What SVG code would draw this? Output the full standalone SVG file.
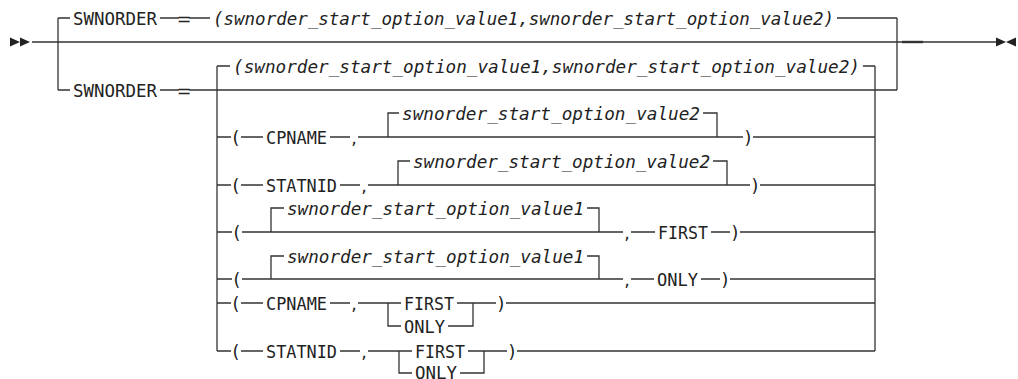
<svg xmlns="http://www.w3.org/2000/svg" width="1018" height="379" viewBox="0 0 1018 379">
<style>
.ln{fill:none;stroke:#333;stroke-width:1.3}
.bg{fill:#fff}
.t{font-family:"DejaVu Sans Mono","Liberation Mono",monospace;font-size:17.5px;fill:#222}
.i{font-family:"DejaVu Sans Mono","Liberation Mono",monospace;font-style:italic;font-size:17.5px;fill:#222}
.p{font-family:"DejaVu Sans","Liberation Sans",sans-serif;font-size:17.5px;fill:#222;text-anchor:middle}
.mk{fill:#222}
</style>
<defs>
<path id="tr" d="M0 -4.5 L10 0 L0 4.5 Z"/>
<path id="tl" d="M10 -4.5 L0 0 L10 4.5 Z"/>
</defs>
<g id="connectors">
<path class="ln" d="M32 42 H996"/>
<path class="ln" d="M902 42 H923" style="stroke-width:2.4"/>
<path class="ln" d="M58 18 V90 M897 18 V90 M58 18 H897 M58 90 H897"/>
<path class="ln" d="M217 66 V351 M875 66 V351 M217 66 H875 M217 137 H875 M217 185 H875 M217 232 H875 M217 279 H875 M217 303 H875 M217 351 H875"/>
<path class="ln" d="M388 137 V113 H717 V137"/>
<path class="ln" d="M398 185 V161 H727 V185"/>
<path class="ln" d="M271 232 V208 H599 V232"/>
<path class="ln" d="M271 279 V256 H599 V279"/>
<path class="ln" d="M388 303 V326 H473 V303"/>
<path class="ln" d="M399 351 V373 H484 V351"/>
</g>
<g id="start"><use href="#tr" class="mk" x="10" y="42"/><use href="#tr" class="mk" x="20" y="42"/></g>
<g id="end"><use href="#tr" class="mk" x="996" y="42"/><use href="#tl" class="mk" x="1006" y="42"/></g>

<g id="n-swnorder-top"><rect class="bg" x="70" y="9" width="90" height="20"/><text class="t" x="73" y="25" textLength="84" lengthAdjust="spacingAndGlyphs">SWNORDER</text></g>
<g id="n-eq-top"><rect class="bg" x="179" y="10" width="10" height="19"/><text class="p" x="184" y="25">=</text></g>
<g id="n-values-top"><rect class="bg" x="210" y="10" width="627" height="19"/><text class="i" x="213" y="25" textLength="621" lengthAdjust="spacingAndGlyphs">(swnorder_start_option_value1,swnorder_start_option_value2)</text></g>

<g id="n-swnorder-bot"><rect class="bg" x="70" y="81" width="90" height="20"/><text class="t" x="73" y="97" textLength="84" lengthAdjust="spacingAndGlyphs">SWNORDER</text></g>
<g id="n-eq-bot"><rect class="bg" x="179" y="82" width="10" height="19"/><text class="p" x="184" y="97">=</text></g>

<g id="n-values-inner"><rect class="bg" x="230" y="58" width="633" height="19"/><text class="i" x="233" y="73" textLength="627" lengthAdjust="spacingAndGlyphs">(swnorder_start_option_value1,swnorder_start_option_value2)</text></g>

<g id="r1-open"><rect class="bg" x="231" y="129" width="10" height="19"/><text class="p" x="236" y="144">(</text></g>
<g id="r1-cpname"><rect class="bg" x="263" y="128" width="67" height="20"/><text class="t" x="266" y="144" textLength="61" lengthAdjust="spacingAndGlyphs">CPNAME</text></g>
<g id="r1-comma"><rect class="bg" x="350" y="129" width="8" height="19"/><text class="p" x="354" y="144">,</text></g>
<g id="r1-v2"><rect class="bg" x="399" y="105" width="304" height="19"/><text class="i" x="402" y="120" textLength="298" lengthAdjust="spacingAndGlyphs">swnorder_start_option_value2</text></g>
<g id="r1-close"><rect class="bg" x="743" y="129" width="10" height="19"/><text class="p" x="748" y="144">)</text></g>

<g id="r2-open"><rect class="bg" x="231" y="177" width="10" height="19"/><text class="p" x="236" y="192">(</text></g>
<g id="r2-statnid"><rect class="bg" x="263" y="176" width="77" height="20"/><text class="t" x="266" y="192" textLength="71" lengthAdjust="spacingAndGlyphs">STATNID</text></g>
<g id="r2-comma"><rect class="bg" x="360" y="177" width="8" height="19"/><text class="p" x="364" y="192">,</text></g>
<g id="r2-v2"><rect class="bg" x="410" y="153" width="303" height="19"/><text class="i" x="413" y="168" textLength="297" lengthAdjust="spacingAndGlyphs">swnorder_start_option_value2</text></g>
<g id="r2-close"><rect class="bg" x="750" y="177" width="10" height="19"/><text class="p" x="755" y="192">)</text></g>

<g id="r3-open"><rect class="bg" x="232" y="224" width="10" height="19"/><text class="p" x="237" y="239">(</text></g>
<g id="r3-v1"><rect class="bg" x="284" y="200" width="303" height="19"/><text class="i" x="287" y="215" textLength="297" lengthAdjust="spacingAndGlyphs">swnorder_start_option_value1</text></g>
<g id="r3-comma"><rect class="bg" x="623" y="224" width="8" height="19"/><text class="p" x="627" y="239">,</text></g>
<g id="r3-first"><rect class="bg" x="655" y="223" width="56" height="20"/><text class="t" x="658" y="239" textLength="50" lengthAdjust="spacingAndGlyphs">FIRST</text></g>
<g id="r3-close"><rect class="bg" x="730" y="224" width="10" height="19"/><text class="p" x="735" y="239">)</text></g>

<g id="r4-open"><rect class="bg" x="232" y="271" width="10" height="19"/><text class="p" x="237" y="286">(</text></g>
<g id="r4-v1"><rect class="bg" x="284" y="248" width="303" height="19"/><text class="i" x="287" y="263" textLength="297" lengthAdjust="spacingAndGlyphs">swnorder_start_option_value1</text></g>
<g id="r4-comma"><rect class="bg" x="623" y="271" width="8" height="19"/><text class="p" x="627" y="286">,</text></g>
<g id="r4-only"><rect class="bg" x="654" y="270" width="47" height="20"/><text class="t" x="657" y="286" textLength="41" lengthAdjust="spacingAndGlyphs">ONLY</text></g>
<g id="r4-close"><rect class="bg" x="720" y="271" width="10" height="19"/><text class="p" x="725" y="286">)</text></g>

<g id="r5-open"><rect class="bg" x="231" y="295" width="10" height="19"/><text class="p" x="236" y="310">(</text></g>
<g id="r5-cpname"><rect class="bg" x="263" y="294" width="67" height="20"/><text class="t" x="266" y="310" textLength="61" lengthAdjust="spacingAndGlyphs">CPNAME</text></g>
<g id="r5-comma"><rect class="bg" x="350" y="295" width="8" height="19"/><text class="p" x="354" y="310">,</text></g>
<g id="r5-first"><rect class="bg" x="401" y="294" width="56" height="20"/><text class="t" x="404" y="310" textLength="50" lengthAdjust="spacingAndGlyphs">FIRST</text></g>
<g id="r5-only"><rect class="bg" x="401" y="318" width="47" height="19"/><text class="t" x="404" y="333" textLength="41" lengthAdjust="spacingAndGlyphs">ONLY</text></g>
<g id="r5-close"><rect class="bg" x="496" y="295" width="10" height="19"/><text class="p" x="501" y="310">)</text></g>

<g id="r6-open"><rect class="bg" x="231" y="343" width="10" height="19"/><text class="p" x="236" y="358">(</text></g>
<g id="r6-statnid"><rect class="bg" x="263" y="342" width="77" height="20"/><text class="t" x="266" y="358" textLength="71" lengthAdjust="spacingAndGlyphs">STATNID</text></g>
<g id="r6-comma"><rect class="bg" x="360" y="343" width="8" height="19"/><text class="p" x="364" y="358">,</text></g>
<g id="r6-first"><rect class="bg" x="412" y="342" width="56" height="20"/><text class="t" x="415" y="358" textLength="50" lengthAdjust="spacingAndGlyphs">FIRST</text></g>
<g id="r6-only"><rect class="bg" x="412" y="365" width="48" height="14"/><text class="t" x="415" y="379" textLength="42" lengthAdjust="spacingAndGlyphs">ONLY</text></g>
<g id="r6-close"><rect class="bg" x="507" y="343" width="10" height="19"/><text class="p" x="512" y="358">)</text></g>
</svg>
